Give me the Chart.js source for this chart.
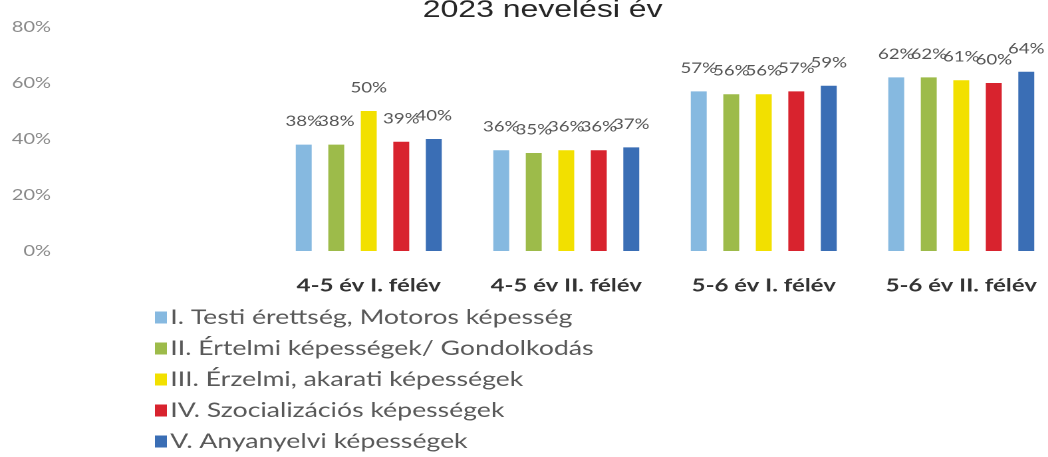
<!DOCTYPE html>
<html>
<head>
<meta charset="utf-8">
<script src="https://cdn.jsdelivr.net/npm/chart.js@4/dist/chart.umd.min.js"></script>
<style>
  html, body { margin: 0; padding: 0; background: #fff; overflow: hidden; width: 1048px; height: 457px; }
  #wrap { position: absolute; left: 0; top: 0; width: 800px; height: 457px; transform: scaleX(1.33); transform-origin: 0 0; }
</style>
</head>
<body>
<div id="wrap"><canvas id="c" width="800" height="457"></canvas></div>
<script>
const titleText = '2023 nevelési év';
const categories = ['4-5 év I. félév', '4-5 év II. félév', '5-6 év I. félév', '5-6 év II. félév'];
const seriesNames = [
  'I. Testi érettség, Motoros képesség',
  'II. Értelmi képességek/ Gondolkodás',
  'III. Érzelmi, akarati képességek',
  'IV. Szocializációs képességek',
  'V. Anyanyelvi képességek'
];
const testi = [38, 36, 57, 62];
const ertelmi = [38, 35, 56, 62];
const erzelmi = [50, 36, 56, 61];
const szocial = [39, 36, 57, 60];
const anyanyelvi = [40, 37, 59, 64];
const yTicks = [0, 20, 40, 60, 80];
const colors = ['#86b9e0', '#9dbb4a', '#f2e000', '#d8232e', '#3a6eb5'];

const seriesValues = [testi, ertelmi, erzelmi, szocial, anyanyelvi];

const titleDraw = {
  id: 'titleDraw',
  afterDraw(chart) {
    const ctx = chart.ctx;
    ctx.save();
    ctx.font = '24px "Liberation Sans"';
    ctx.fillStyle = '#262626';
    ctx.textAlign = 'center';
    ctx.textBaseline = 'alphabetic';
    ctx.fillText(titleText, 408, 17);
    ctx.restore();
  }
};

const valueLabels = {
  id: 'valueLabels',
  afterDatasetsDraw(chart) {
    const ctx = chart.ctx;
    ctx.save();
    ctx.font = '14px Lato';
    ctx.fillStyle = '#555555';
    ctx.textAlign = 'center';
    ctx.textBaseline = 'middle';
    chart.data.datasets.forEach((ds, i) => {
      const meta = chart.getDatasetMeta(i);
      meta.data.forEach((bar, j) => {
        ctx.fillText(ds.data[j] + '%', bar.x, bar.y - 23);
      });
    });
    ctx.restore();
  }
};

const customLegend = {
  id: 'customLegend',
  afterDraw(chart) {
    const ctx = chart.ctx;
    ctx.save();
    ctx.font = '20px Lato';
    ctx.textAlign = 'left';
    ctx.textBaseline = 'middle';
    chart.data.datasets.forEach((ds, i) => {
      const y = 317.5 + i * 31;
      ctx.fillStyle = ds.backgroundColor;
      ctx.fillRect(116.5, y - 6, 9, 12);
      ctx.fillStyle = '#595959';
      ctx.fillText(ds.label, 128, y);
    });
    ctx.restore();
  }
};

new Chart(document.getElementById('c'), {
  type: 'bar',
  data: {
    labels: categories,
    datasets: seriesNames.map((name, i) => ({
      label: name,
      data: seriesValues[i],
      backgroundColor: colors[i],
      borderWidth: 0,
      categoryPercentage: 0.823,
      barPercentage: 0.49
    }))
  },
  options: {
    responsive: false,
    animation: false,
    devicePixelRatio: 2,
    layout: { padding: { left: 0, right: 3, top: 27, bottom: 0 } },
    plugins: {
      legend: { display: false },
      tooltip: { enabled: false },
      title: { display: false }
    },
    scales: {
      x: {
        grid: { display: false, drawTicks: false },
        border: { display: false },
        ticks: {
          color: '#333333',
          font: { family: 'Lato', size: 18, weight: 'bold' },
          padding: 24,
          maxRotation: 0,
          autoSkip: false
        },
        afterFit(axis) {
          axis.height = 206;
          axis.paddingLeft = 0;
          axis.paddingRight = 0;
        }
      },
      y: {
        min: 0,
        max: 80,
        grid: { display: false, drawTicks: false },
        border: { display: false },
        afterBuildTicks(axis) { axis.ticks = yTicks.map(v => ({ value: v })); },
        ticks: {
          color: '#8a8a8a',
          font: { family: 'Lato', size: 15 },
          padding: 164.7,
          crossAlign: 'near',
          callback: v => v + '%'
        },
        afterFit(axis) {
          axis.width = 203;
          axis.paddingTop = 0;
          axis.paddingBottom = 0;
        }
      }
    }
  },
  plugins: [valueLabels, customLegend, titleDraw]
});
</script>
</body>
</html>
